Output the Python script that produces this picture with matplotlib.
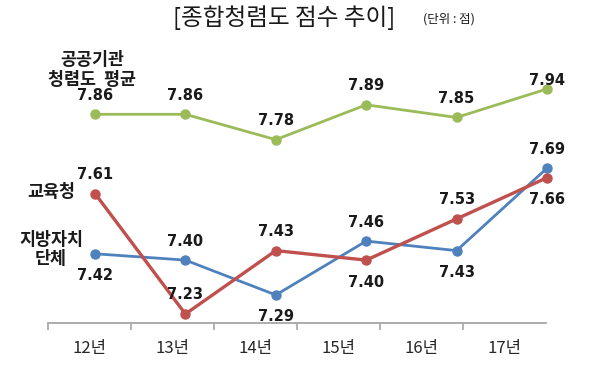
import matplotlib
matplotlib.use("Agg")
import matplotlib.pyplot as plt

plt.rcParams['font.family'] = ['Noto Sans CJK KR', 'DejaVu Sans']

years = ['12년', '13년', '14년', '15년', '16년', '17년']
public_avg = [7.86, 7.86, 7.78, 7.89, 7.85, 7.94]
edu_office = [7.61, 7.23, 7.43, 7.40, 7.53, 7.66]
local_gov = [7.42, 7.40, 7.29, 7.46, 7.43, 7.69]

# label placement: +1 above, -1 below
public_pos = [1, 1, 1, 1, 1, 1]
edu_pos = [1, 1, 1, -1, 1, -1]
local_pos = [-1, 1, -1, 1, -1, 1]

W, H = 608, 375
fig = plt.figure(figsize=(W / 100, H / 100), dpi=100)

def rect(x0, y0, x1, y1):
    return [x0 / W, 1 - y1 / H, (x1 - x0) / W, (y1 - y0) / H]

# category axis (ticks / labels)
ax2 = fig.add_axes(rect(48, 60, 546, 323))
ax2.set_xlim(0, 6)
ax2.set_ylim(0, 1)
for s in ['top', 'left', 'right']:
    ax2.spines[s].set_visible(False)
ax2.spines['bottom'].set_color('#a6a6a6')
ax2.spines['bottom'].set_linewidth(1.3)
ax2.set_yticks([])
ax2.set_xticks([i + 0.5 for i in range(len(years))])
ax2.set_xticklabels(years, fontsize=12, color='#262626', fontweight='medium')
ax2.tick_params(axis='x', which='major', length=0, pad=12)
ax2.set_xticks(range(len(years)), minor=True)
ax2.tick_params(axis='x', which='minor', length=5, width=1.2, color='#a6a6a6', direction='out')
ax2.patch.set_alpha(0)

# line axes
ax = fig.add_axes(rect(48, 60, 560, 323))
ax.patch.set_alpha(0)
ax.axis('off')
x = list(range(len(years)))
ax.set_xlim(-0.52, 5.144)
ax.set_ylim(7.2016, 8.0313)

series = [
    (public_avg, '#9BBB59', 2.0, public_pos),
    (local_gov, '#4F81BD', 2.0, local_pos),
    (edu_office, '#C0504D', 2.4, edu_pos),
]
for vals, col, lw, pos in series:
    ax.plot(x, vals, color=col, lw=lw, marker='o', ms=6.5, mec=col, mfc=col, zorder=3)
    for xi, v, p in zip(x, vals, pos):
        dy = 19 if p > 0 else -22
        if vals is public_avg and xi == 5:
            dy = 8
        ax.annotate(f'{v:.2f}', (xi, v), xytext=(0, dy), textcoords='offset pixels',
                    ha='center', va='center', fontsize=10.5, fontweight='bold',
                    color='#1a1a1a', family=['DejaVu Sans'])

# series names
kw = dict(ha='center', va='center', fontsize=12.5, fontweight='bold', color='#1a1a1a')
fig.text(92 / W, 1 - 60 / H, '공공기관', **kw)
fig.text(92 / W, 1 - 80 / H, '청렴도  평균', **kw)
fig.text(51 / W, 1 - 192 / H, '교육청', **kw)
fig.text(51 / W, 1 - 240 / H, '지방자치', **kw)
fig.text(51 / W, 1 - 259 / H, '단체', **kw)

# title
fig.text(284 / W, 1 - 18 / H, '[종합청렴도 점수 추이]', ha='center', va='center', fontsize=17, color='#1a1a1a')
fig.text(449 / W, 1 - 19 / H, '(단위 : 점)', ha='center', va='center', fontsize=9, color='#1a1a1a')

fig.savefig('out.png', dpi=100, facecolor='white')
